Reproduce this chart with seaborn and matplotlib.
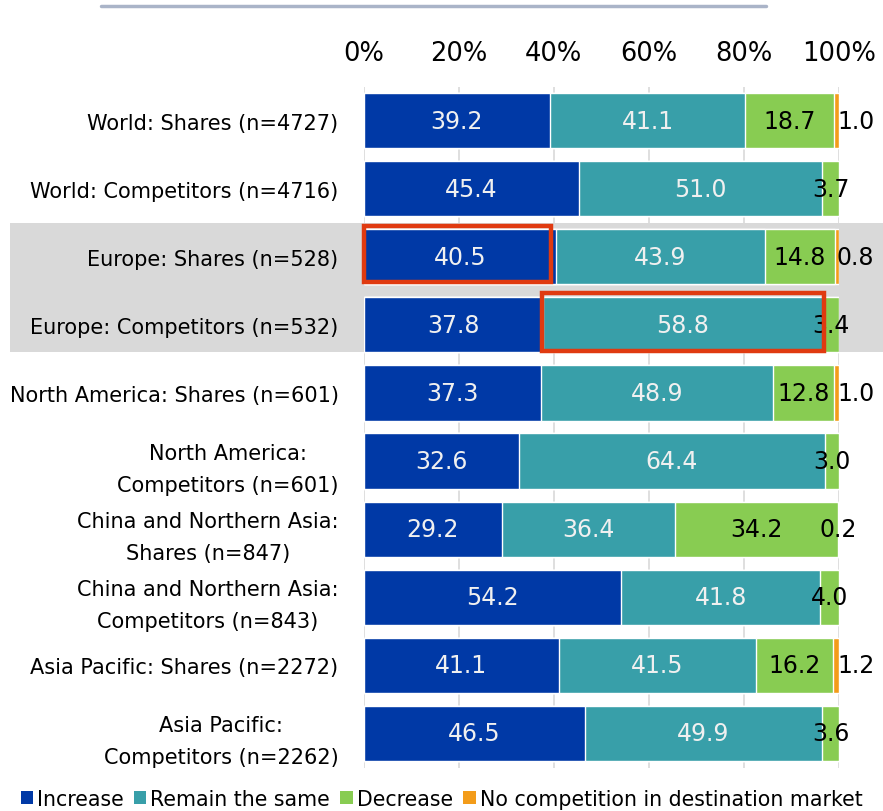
import numpy as np
import pandas as pd
import seaborn as sns
import matplotlib.pyplot as plt
from matplotlib.patches import Rectangle
from matplotlib.lines import Line2D
import matplotlib.transforms as mtransforms

# --- data ---
categories = [
    "World: Shares (n=4727)",
    "World: Competitors (n=4716)",
    "Europe: Shares (n=528)",
    "Europe: Competitors (n=532)",
    "North America: Shares (n=601)",
    "North America:\nCompetitors (n=601)",
    "China and Northern Asia:\nShares (n=847)",
    "China and Northern Asia:\nCompetitors (n=843)",
    "Asia Pacific: Shares (n=2272)",
    "Asia Pacific:\nCompetitors (n=2262)",
]
increase = [39.2, 45.4, 40.5, 37.8, 37.3, 32.6, 29.2, 54.2, 41.1, 46.5]
remain = [41.1, 51.0, 43.9, 58.8, 48.9, 64.4, 36.4, 41.8, 41.5, 49.9]
decrease = [18.7, 3.7, 14.8, 3.4, 12.8, 3.0, 34.2, 4.0, 16.2, 3.6]
no_comp = [1.0, 0, 0.8, 0, 1.0, 0, 0.2, 0, 1.2, 0]
xtick_labels = ["0%", "20%", "40%", "60%", "80%", "100%"]

series_names = ["Increase", "Remain the same", "Decrease",
                "No competition in destination market"]
colors = ["#0039A6", "#389FA9", "#88CC52", "#F39C1A"]
label_colors = ["#F0F0F0", "#F0F0F0", "black", "black"]

df = pd.DataFrame({"Category": categories, "Increase": increase,
                   "Remain": remain, "Decrease": decrease, "NoComp": no_comp})
cols = ["Increase", "Remain", "Decrease", "NoComp"]
cum = df[cols].cumsum(axis=1)

sns.set_theme(style="white")
plt.rcParams['font.family'] = ['DejaVu Sans']

fig = plt.figure(figsize=(8.83, 8.12), dpi=100)
ax = fig.add_axes([363.5 / 883, 1 - 768.5 / 812, 475.5 / 883, 681 / 812])

# stacked bars: draw cumulative totals from the longest down
for i in range(len(cols) - 1, -1, -1):
    sns.barplot(x=cum[cols[i]], y=df["Category"], color=colors[i],
                orient="h", width=0.81, ax=ax, zorder=2, saturation=1)

# value labels
for r in range(len(categories)):
    left = 0
    for i, c in enumerate(cols):
        v = df[c][r]
        if v > 0:
            xc = left + v / 2
            if c == "NoComp" and v >= 0.5:
                xc = 103.5
            ax.text(xc, r, f"{v:.1f}", ha="center", va="center",
                    color=label_colors[i], fontsize=17, zorder=5)
        left += v

ax.set_xlim(0, 100)
ax.set_ylim(9.5, -0.5)
ax.set_xticks(range(0, 101, 20))
ax.set_xticklabels(xtick_labels, fontsize=18.5, color="black")
ax.xaxis.tick_top()
ax.tick_params(axis="x", length=0, pad=15)
ax.set_yticks(range(len(categories)))
ax.set_yticklabels(categories, fontsize=15, color="black",
                   multialignment="center", linespacing=1.75)
ax.tick_params(axis="y", length=0, pad=18)
ax.set_xlabel("")
ax.set_ylabel("")
ax.grid(axis="x", color="#D9D9D9", linewidth=1.2, zorder=1)
ax.set_axisbelow(True)
for s in ax.spines.values():
    s.set_visible(False)
ax.patch.set_alpha(0)

# grey highlight band behind the Europe rows
trans = mtransforms.blended_transform_factory(fig.transFigure, ax.transData)
ax.add_patch(Rectangle((10 / 883, 1.505), 1 - 10 / 883, 1.895, transform=trans,
                       facecolor="#D9D9D9", edgecolor="none", zorder=0, clip_on=False))

# red outline boxes
ax.add_patch(Rectangle((0.1, 1.55), 39.3, 0.82, fill=False, edgecolor="#E03A10",
                       linewidth=3.2, zorder=6, clip_on=False))
ax.add_patch(Rectangle((37.5, 2.53), 59.3, 0.86, fill=False, edgecolor="#E03A10",
                       linewidth=3.2, zorder=6, clip_on=False))

# decorative line at top
fig.add_artist(Line2D([101 / 883, 766 / 883], [1 - 7 / 812, 1 - 7 / 812],
                      color="#AAB4C8", linewidth=2.5))

# legend
handles = [Rectangle((0, 0), 1, 1, facecolor=c, edgecolor="none") for c in colors]
leg = fig.legend(handles, series_names, loc="center", bbox_to_anchor=(0.5, 1 - 800 / 812),
                 ncol=4, frameon=False, fontsize=14.8, handlelength=0.6, handleheight=0.6,
                 handletextpad=0.2, columnspacing=0.5, borderaxespad=0)
for t in leg.get_texts():
    t.set_color("black")

fig.savefig("out.png", dpi=100)
